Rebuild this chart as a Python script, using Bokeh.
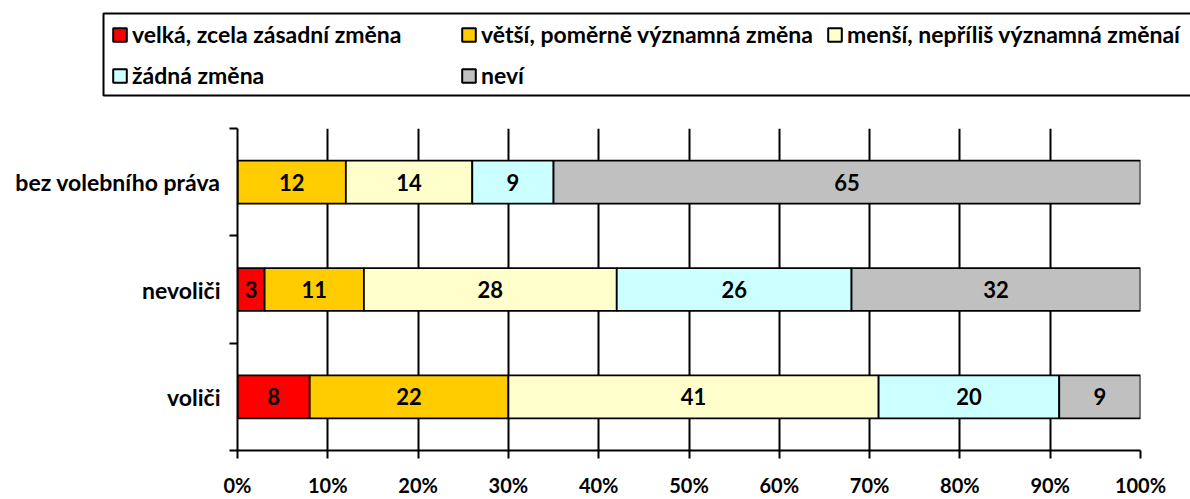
import numpy as np
from bokeh.plotting import figure
from bokeh.models import ColumnDataSource, Range1d, FixedTicker, Legend, LegendItem, BoxAnnotation
from bokeh.layouts import column
from bokeh.embed import file_html
from bokeh.resources import INLINE
from bokeh.core.properties import value

# ---- data ----
categories = ["voliči", "nevoliči", "bez volebního práva"]
series_names = [
    "velká, zcela zásadní změna",
    "větší, poměrně významná změna",
    "menší, nepříliš významná změnaí",
    "žádná změna",
    "neví",
]
velka = [8, 3, 0]
vetsi = [22, 11, 12]
mensi = [41, 28, 14]
zadna = [20, 26, 9]
nevi = [9, 32, 65]
colors = ["#FF0000", "#FFCC00", "#FFFFCC", "#CCFFFF", "#C0C0C0"]
x_ticks = [0, 10, 20, 30, 40, 50, 60, 70, 80, 90, 100]
x_tick_labels = ["0%", "10%", "20%", "30%", "40%", "50%", "60%", "70%", "80%", "90%", "100%"]

FONT = "Lato"
series = [velka, vetsi, mensi, zadna, nevi]
keys = ["s0", "s1", "s2", "s3", "s4"]
pos = [i + 0.5 for i in range(len(categories))]
bounds = [float(i) for i in range(len(categories) + 1)]

src = ColumnDataSource(dict(y=pos, **{k: s for k, s in zip(keys, series)}))

# ---- main chart ----
p = figure(width=1190, height=379, x_range=Range1d(0, 100), y_range=Range1d(0, 3),
           output_backend="svg", toolbar_location=None,
           min_border_left=237, min_border_right=50, min_border_top=8, min_border_bottom=46)
p.outline_line_color = None
p.background_fill_color = "white"

p.hbar_stack(keys, y="y", height=0.4, fill_color=colors, line_color="black",
             line_width=1.8, source=src)

# value labels
arr = np.array(series, dtype=float)
lefts = np.vstack([np.zeros(arr.shape[1]), np.cumsum(arr, axis=0)[:-1]])
centers = lefts + arr / 2
lx, ly, lt = [], [], []
for si in range(arr.shape[0]):
    for ci in range(arr.shape[1]):
        if arr[si, ci] > 0:
            lx.append(centers[si, ci])
            ly.append(pos[ci])
            lt.append(str(int(arr[si, ci])))
p.text(x=lx, y=ly, text=lt, text_align="center", text_baseline="middle",
       text_font=value(FONT), text_font_style="bold", text_font_size="22px",
       text_color="black")

# x axis
xax = p.xaxis[0]
xax.ticker = FixedTicker(ticks=x_ticks)
xax.major_label_overrides = {t: l for t, l in zip(x_ticks, x_tick_labels)}
xax.major_label_text_font = FONT
xax.major_label_text_font_style = "bold"
xax.major_label_text_font_size = "20px"
xax.major_label_text_color = "black"
xax.major_tick_out = 8
xax.major_tick_in = 0
xax.minor_tick_out = 0
xax.minor_tick_in = 0
xax.major_label_standoff = 14
xax.axis_line_color = "black"
xax.axis_line_width = 2
xax.major_tick_line_color = "black"
xax.major_tick_line_width = 2

# y axis
yax = p.yaxis[0]
yax.ticker = FixedTicker(ticks=pos, minor_ticks=bounds)
yax.major_label_overrides = {pv: c for pv, c in zip(pos, categories)}
yax.major_label_text_font = FONT
yax.major_label_text_font_style = "bold"
yax.major_label_text_font_size = "23px"
yax.major_label_text_color = "black"
yax.major_tick_out = 0
yax.major_tick_in = 0
yax.minor_tick_out = 8
yax.minor_tick_in = 0
yax.minor_tick_line_color = "black"
yax.minor_tick_line_width = 2
yax.major_label_standoff = 9
yax.axis_line_color = "black"
yax.axis_line_width = 2

p.xgrid.ticker = FixedTicker(ticks=x_ticks)
p.xgrid.grid_line_color = "black"
p.xgrid.grid_line_width = 2
p.ygrid.visible = False

# ---- legend panel ----
leg = figure(width=1190, height=120, x_range=Range1d(0, 1190), y_range=Range1d(120, 0),
             output_backend="svg", toolbar_location=None, min_border=0,
             x_axis_type=None, y_axis_type=None)
leg.frame_align = False
leg.outline_line_color = None
hidden = ColumnDataSource(dict(y=[np.nan], right=[np.nan]))
rs = [leg.hbar(y="y", right="right", height=1, fill_color=c, line_color="black",
               line_width=2, source=hidden) for c in colors]
legend = Legend(items=[LegendItem(label=n, renderers=[r]) for n, r in zip(series_names, rs)],
                location=(111, 31), ncols=3, orientation="horizontal",
                margin=0, padding=0, spacing=13, label_width=315, label_standoff=4,
                glyph_width=17, glyph_height=17,
                label_text_font=FONT, label_text_font_style="bold",
                label_text_font_size="23px", label_text_color="black",
                border_line_color=None, background_fill_alpha=0)
leg.add_layout(legend)
leg.add_layout(BoxAnnotation(left=103, right=1200, top=13, bottom=95,
                             fill_alpha=0, line_color="black", line_width=2,
                             line_alpha=1))

layout = column(leg, p)
open("out.html", "w").write(file_html(layout, INLINE))
